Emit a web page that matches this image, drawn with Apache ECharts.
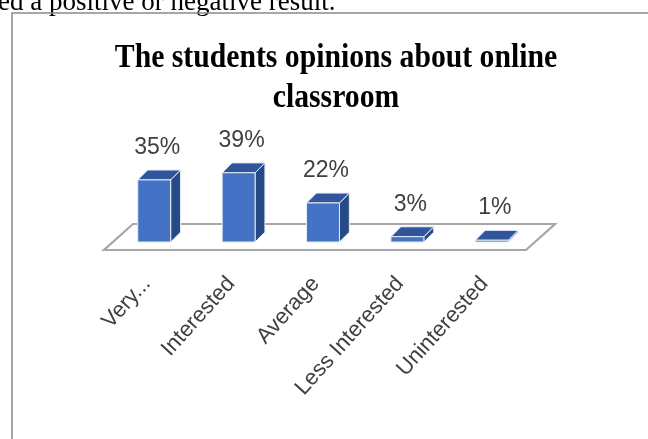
<!DOCTYPE html>
<html>
<head>
<meta charset="utf-8">
<script src="https://cdn.jsdelivr.net/npm/echarts@6/dist/echarts.min.js"></script>
<style>
html,body{margin:0;padding:0;background:#fff;}
#chart{width:648px;height:439px;}
</style>
</head>
<body>
<div id="chart"></div>
<script>
const categories = ['Very...', 'Interested', 'Average', 'Less Interested', 'Uninterested'];
const percentValues = [35, 39, 22, 3, 1];
const titleLines = ['The students opinions about online', 'classroom'];
const contextText = 'ed a positive or negative result.';

const chart = echarts.init(document.getElementById('chart'), null, {renderer: 'canvas'});

const FRONT = '#4472C4', SIDE = '#264a85', TOP = '#30559a', EDGE = '#e6ecf6';

function barItem(params, api) {
  const idx = api.value(0);
  const v = api.value(1);
  const base = api.coord([idx, 0]);
  const top = api.coord([idx, v]);
  const band = api.size([1, 0])[0];
  const w = band * 0.39;
  const d = w * 0.3;
  const x0 = base[0] - w / 2, x1 = base[0] + w / 2;
  const yb = base[1], yt = top[1];
  return {
    type: 'group',
    children: [
      {type: 'polygon', shape: {points: [[x1, yb], [x1 + d, yb - d], [x1 + d, yt - d], [x1, yt]]},
       style: {fill: SIDE, stroke: EDGE, lineWidth: 1}},
      {type: 'polygon', shape: {points: [[x0, yt], [x0 + d, yt - d], [x1 + d, yt - d], [x1, yt]]},
       style: {fill: TOP, stroke: EDGE, lineWidth: 1}},
      {type: 'rect', shape: {x: x0, y: yt, width: w, height: yb - yt},
       style: {fill: FRONT, stroke: EDGE, lineWidth: 1}},
      {type: 'text', x: base[0] + 3, y: yt - d - 11,
       style: {text: v + '%', fill: '#404040', font: '23px "Liberation Sans", Arial, sans-serif',
               align: 'center', verticalAlign: 'bottom'}}
    ]
  };
}

function floorItem(params, api) {
  const cs = params.coordSys;
  const yb = cs.y + cs.height;
  const L = cs.x, R = cs.x + cs.width;
  return {
    type: 'polygon',
    shape: {points: [[L - 8, yb + 8], [R - 8, yb + 8], [R + 21, yb - 18], [L + 21, yb - 18]]},
    style: {fill: '#fff', stroke: '#a6a6a6', lineWidth: 2.2}
  };
}

const option = {
  animation: false,
  backgroundColor: '#ffffff',
  grid: {left: 112, right: 114, top: 171, bottom: 197},
  xAxis: {
    type: 'category',
    data: categories,
    axisLine: {show: false},
    axisTick: {show: false},
    axisLabel: {
      rotate: 48, interval: 0, margin: 30, padding: [0, 11, 0, 0],
      color: '#404040', fontSize: 22, fontFamily: '"Liberation Sans", Arial, sans-serif'
    }
  },
  yAxis: {type: 'value', min: 0, max: 40, show: false, splitLine: {show: false}},
  series: [
    {type: 'custom', z: 1, renderItem: floorItem, data: [[0, 0]], silent: true},
    {type: 'custom', z: 2, renderItem: barItem,
     data: categories.map((c, i) => [i, percentValues[i]])}
  ],
  graphic: [
    {type: 'text', x: -2, y: 3,
     style: {text: contextText, fill: '#000', font: '27px "Liberation Serif", "Times New Roman", serif',
             align: 'left', verticalAlign: 'middle'}},
    {type: 'polyline', shape: {points: [[12, 439], [12, 13], [648, 13]]},
     style: {stroke: '#8a8a8a', lineWidth: 1.5, fill: null}},
    {type: 'text', x: 336, y: 38, scaleX: 0.9,
     style: {text: titleLines.join('\n'), fill: '#000',
             font: 'bold 33px "Liberation Serif", "Times New Roman", serif',
             lineHeight: 40, align: 'center', verticalAlign: 'top'}}
  ]
};
chart.setOption(option);
</script>
</body>
</html>
